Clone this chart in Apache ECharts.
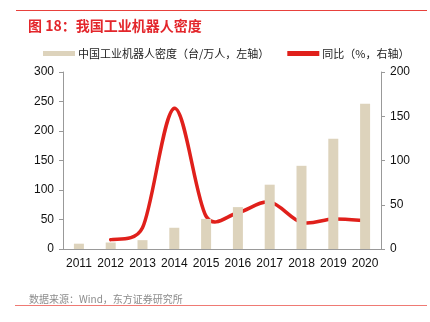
<!DOCTYPE html>
<html><head><meta charset="utf-8">
<script src="https://cdn.jsdelivr.net/npm/echarts@6/dist/echarts.min.js"></script>
<style>html,body{margin:0;padding:0;background:#fff}#c{width:430px;height:322px}</style>
</head><body><div id="c"></div>
<script>
var categories = ['2011','2012','2013','2014','2015','2016','2017','2018','2019','2020'];
var densityValues = [9, 11, 15, 36, 51, 71, 109, 141, 187, 246];
var yoyValues = [null, 10.5, 24, 159, 37, 41, 53, 30, 34, 32];
var leftTicks = [0, 50, 100, 150, 200, 250, 300];
var rightTicks = [0, 50, 100, 150, 200];

var yoyData = [];
yoyValues.forEach(function (v, i) { if (v != null) yoyData.push([i, v]); });

var chart = echarts.init(document.getElementById('c'), null, {renderer:'canvas'});
var font = 'Liberation Sans, Arial, sans-serif';
var cjk = '"Noto Sans CJK SC", sans-serif';
var red = '#e0201b';

function dist(a, b) { return Math.sqrt((a[0]-b[0])*(a[0]-b[0]) + (a[1]-b[1])*(a[1]-b[1])); }

function renderSmooth(params, api) {
  if (params.dataIndex !== 0) return null;
  var pts = yoyData.map(function (d) { return api.coord([d[0], d[1]]); });
  var n = pts.length;
  var d = 'M' + pts[0][0] + ',' + pts[0][1];
  for (var i = 0; i < n - 1; i++) {
    var p0 = pts[Math.max(i - 1, 0)], p1 = pts[i], p2 = pts[i + 1], p3 = pts[Math.min(i + 2, n - 1)];
    var d12 = dist(p1, p2), d02 = dist(p0, p2), d13 = dist(p1, p3);
    var f1 = 1 / 6, f2 = 1 / 6;
    if (d02 / 6 > d12 / 2) f1 = d12 / (2 * d02);
    if (d13 / 6 > d12 / 2) f2 = d12 / (2 * d13);
    var c1x = p1[0] + (p2[0] - p0[0]) * f1, c1y = p1[1] + (p2[1] - p0[1]) * f1;
    var c2x = p2[0] - (p3[0] - p1[0]) * f2, c2y = p2[1] - (p3[1] - p1[1]) * f2;
    d += ' C' + c1x + ',' + c1y + ' ' + c2x + ',' + c2y + ' ' + p2[0] + ',' + p2[1];
  }
  return {
    type: 'path',
    shape: {pathData: d},
    style: {stroke: red, lineWidth: 3.5, fill: null, lineCap: 'round', lineJoin: 'round'}
  };
}

chart.setOption({
  animation: false,
  title: [
    {text: '图 18：我国工业机器人密度', left: 23, top: 14, textStyle: {color: '#e3262b', fontSize: 14, fontWeight: 'bold', fontFamily: cjk}},
    {text: '数据来源：Wind，东方证券研究所', left: 24, top: 289, textStyle: {color: '#8c8c8c', fontSize: 10, fontWeight: 'normal', fontFamily: cjk}}
  ],
  graphic: [
    {type: 'line', shape: {x1: 16, y1: 10.5, x2: 427, y2: 10.5}, style: {stroke: '#e8413c', lineWidth: 1}},
    {type: 'line', shape: {x1: 15, y1: 305.5, x2: 427, y2: 305.5}, style: {stroke: '#ef7a74', lineWidth: 1}}
  ],
  legend: {
    top: 43, left: 38, itemGap: 18, itemWidth: 32, itemHeight: 5,
    textStyle: {fontSize: 11, color: '#222', fontFamily: cjk, padding: [0,0,0,-2]},
    data: [
      {name: '中国工业机器人密度（台/万人，左轴）', icon: 'rect'},
      {name: '同比（%，右轴）', icon: 'rect', itemStyle: {color: red}}
    ]
  },
  grid: {left: 63, right: 49, top: 72, bottom: 73},
  xAxis: {
    type: 'category', data: categories, boundaryGap: true,
    axisLine: {lineStyle: {color: '#999'}},
    axisTick: {inside: true, length: 5, lineStyle: {color: '#999'}},
    axisLabel: {color: '#111', fontSize: 12, fontFamily: font, margin: 9, interval: 0}
  },
  yAxis: [
    {type: 'value', min: 0, max: 300, interval: 50,
     axisLine: {show: true, lineStyle: {color: '#999'}},
     axisTick: {show: true, length: 4, lineStyle: {color: '#999'}},
     splitLine: {show: false},
     axisLabel: {color: '#111', fontSize: 12, fontFamily: font, margin: 9}},
    {type: 'value', min: 0, max: 200, interval: 50, position: 'right',
     axisLine: {show: true, lineStyle: {color: '#999'}},
     axisTick: {show: true, length: 4, lineStyle: {color: '#999'}},
     splitLine: {show: false},
     axisLabel: {color: '#111', fontSize: 12, fontFamily: font, margin: 9}}
  ],
  series: [
    {name: '中国工业机器人密度（台/万人，左轴）', type: 'bar', data: densityValues, barWidth: 10,
     itemStyle: {color: '#ddd3bc'}},
    {name: '同比（%，右轴）', type: 'custom', yAxisIndex: 1, data: yoyData,
     encode: {x: 0, y: 1}, renderItem: renderSmooth, clip: false,
     itemStyle: {color: red}}
  ]
});
</script></body></html>
